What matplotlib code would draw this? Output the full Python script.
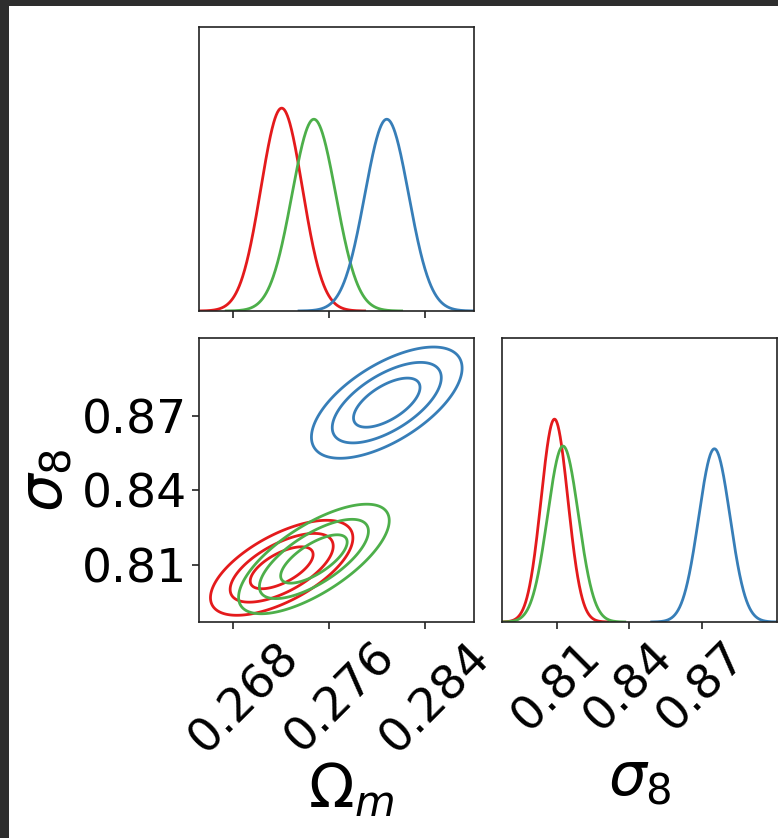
import numpy as np
import matplotlib.pyplot as plt
from matplotlib.patches import Rectangle
from matplotlib.transforms import ScaledTranslation


# ==============================
# Gaussian fits read from the chains (red, green, blue)
# ==============================

colors = ["#e41a1c", "#4daf4a", "#377eb8"]
om_mean = [0.27204, 0.27473, 0.28081]
om_sigma = [0.00173, 0.00183, 0.00183]
s8_mean = [0.80896, 0.8125, 0.87525]
s8_sigma = [0.00555, 0.0064, 0.0065]
corr = [0.63, 0.70, 0.62]

# 68.3 / 95.4 / 99.7 per cent contours for 2 parameters (delta chi2)
chi2_levels = [2.30, 6.18, 11.8]

om_ticks = [0.268, 0.276, 0.284]
s8_ticks = [0.81, 0.84, 0.87]
om_range = (0.26514, 0.28809)
s8_range = (0.7872, 0.9012)

TICK_SIZE = 34
LABEL_SIZE = 43


def gauss(x, mu, sig):
    return np.exp(-0.5 * ((x - mu) / sig) ** 2) / (sig * np.sqrt(2 * np.pi))


def style_axis(ax):
    for spine in ax.spines.values():
        spine.set_linewidth(1.2)
        spine.set_color("#222222")
    ax.tick_params(direction="out", length=5, width=1.2, labelsize=TICK_SIZE, color="#222222")


def plot_marginal(ax, means, sigmas, lims):
    peaks = []
    for c, mu, sig in zip(colors, means, sigmas):
        # chains only cover about +-4 sigma, so the curve stops there
        x = np.linspace(max(lims[0], mu - 4 * sig), min(lims[1], mu + 4 * sig), 400)
        y = gauss(x, mu, sig)
        peaks.append(y.max())
        ax.plot(x, y, color=c, lw=2)
    ax.set_xlim(lims)
    ax.set_ylim(0, 1.4 * max(peaks))
    ax.set_yticks([])


fig = plt.figure(figsize=(7.78, 8.38), dpi=100)

W, H = 778, 838
ax_top = fig.add_axes([199 / W, 1 - 311 / H, 275 / W, 284 / H])
ax_2d = fig.add_axes([199 / W, 1 - 622 / H, 275 / W, 284 / H])
ax_right = fig.add_axes([502 / W, 1 - 622 / H, 275 / W, 284 / H])

# ==============================
# Omega_m marginal
# ==============================

plot_marginal(ax_top, om_mean, om_sigma, om_range)
ax_top.set_xticks(om_ticks)
ax_top.set_xticklabels([])
style_axis(ax_top)

# ==============================
# Omega_m - sigma_8 contours
# ==============================

gx, gy = np.meshgrid(np.linspace(om_range[0], om_range[1], 400),
                     np.linspace(s8_range[0], s8_range[1], 400))
for c, mx, sx, my, sy, r in zip(colors, om_mean, om_sigma, s8_mean, s8_sigma, corr):
    dx = (gx - mx) / sx
    dy = (gy - my) / sy
    chi2 = (dx ** 2 - 2 * r * dx * dy + dy ** 2) / (1 - r ** 2)
    ax_2d.contour(gx, gy, chi2, levels=chi2_levels, colors=c, linewidths=2)
ax_2d.set_xlim(om_range)
ax_2d.set_ylim(s8_range)
ax_2d.set_xticks(om_ticks)
ax_2d.set_xticklabels([f"{t:.3f}" for t in om_ticks], rotation=45)
ax_2d.set_yticks(s8_ticks)
ax_2d.set_yticklabels([f"{t:.2f}" for t in s8_ticks])
style_axis(ax_2d)
# rotated labels sit a little right of their ticks in the original
shift = ScaledTranslation(11 / 100, 0, fig.dpi_scale_trans)
for lab in ax_2d.get_xticklabels():
    lab.set_transform(lab.get_transform() + shift)
ax_2d.set_xlabel(r"$\Omega_m$", fontsize=LABEL_SIZE)
ax_2d.xaxis.set_label_coords(0.553, -0.49)
ax_2d.xaxis.label.set_va("top")
ax_2d.set_ylabel(r"$\sigma_8$", fontsize=LABEL_SIZE)
ax_2d.yaxis.set_label_coords(-0.45, 0.5)

# ==============================
# sigma_8 marginal
# ==============================

plot_marginal(ax_right, s8_mean, s8_sigma, s8_range)
ax_right.set_xticks(s8_ticks)
ax_right.set_xticklabels([f"{t:.2f}" for t in s8_ticks], rotation=45)
style_axis(ax_right)
ax_right.set_xlabel(r"$\sigma_8$", fontsize=LABEL_SIZE)
ax_right.xaxis.set_label_coords(0.5, -0.45)
ax_right.xaxis.label.set_va("top")

# dark frame of the screenshot (top and left edges)
fig.add_artist(Rectangle((0, 1 - 6 / H), 1, 6 / H, transform=fig.transFigure,
                         facecolor="#2e2e2e", edgecolor="none"))
fig.add_artist(Rectangle((0, 0), 9 / W, 1, transform=fig.transFigure,
                         facecolor="#2e2e2e", edgecolor="none"))

fig.savefig("out.png", dpi=100)
